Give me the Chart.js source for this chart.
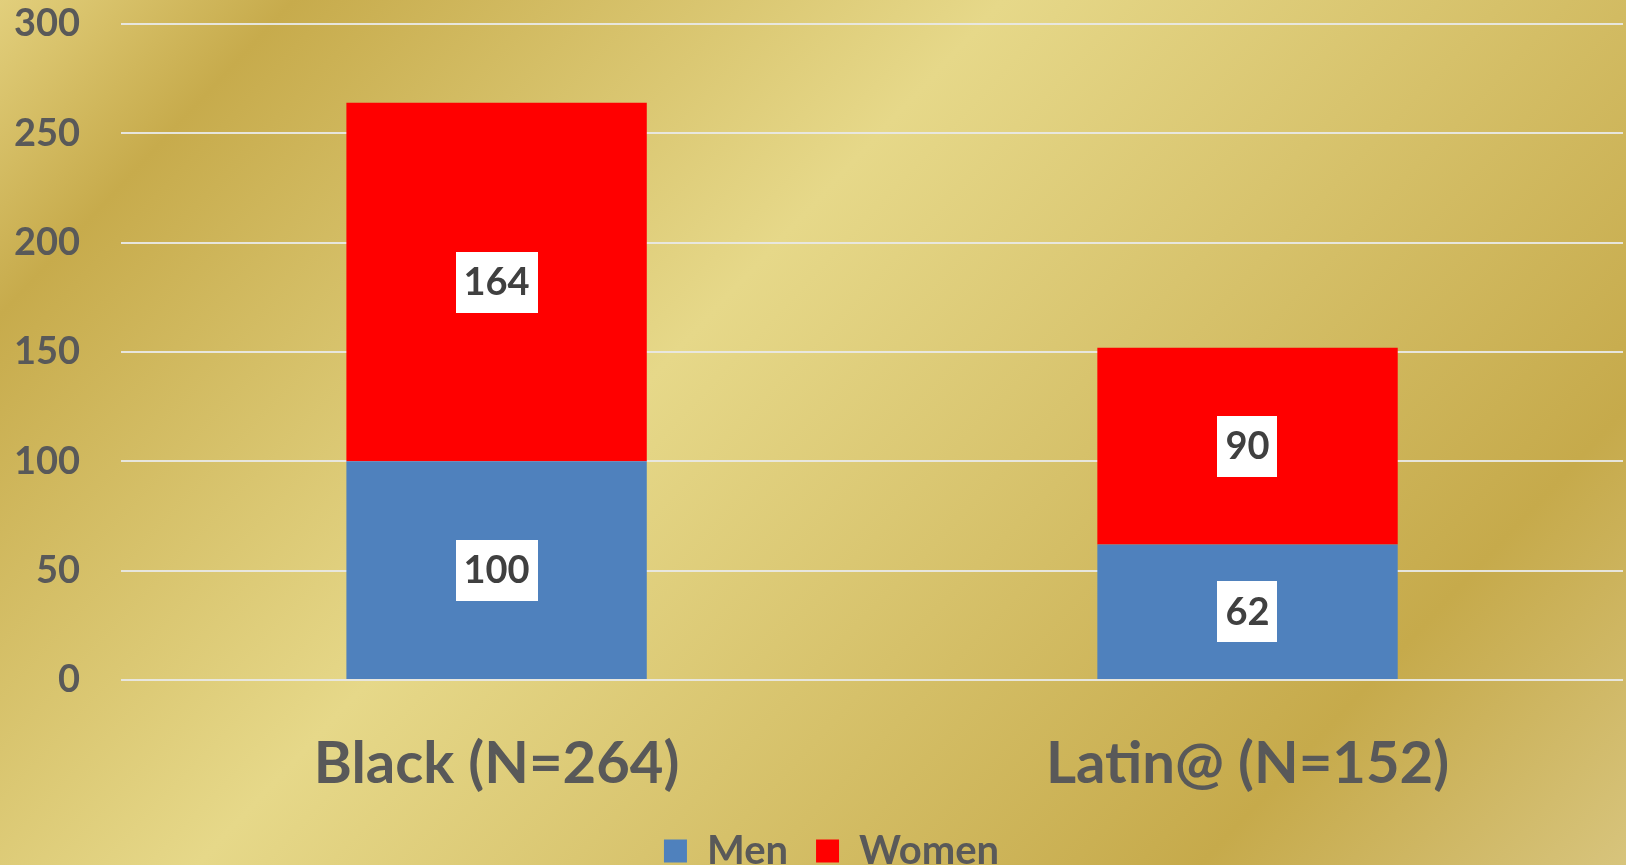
<!DOCTYPE html>
<html>
<head>
<meta charset="utf-8">
<script src="https://cdn.jsdelivr.net/npm/chart.js@4"></script>
<style>
    html, body { margin:0; padding:0; overflow:hidden; width:1626px; height:865px; }
    .wrap {
        position:relative; width:1626px; height:881px;
        background: linear-gradient(133deg, #e2cf7c 0%, #c7ab4c 12%, #e6d889 41%, #c6aa4b 82%, #d8c57e 100%);
    }
</style>
</head>
<body>
<div class="wrap"><canvas id="chart"></canvas></div>
<script>
// ── Data ─────────────────────────────────────────────
const categories = ['Black (N=264)', 'Latin@ (N=152)'];
const menValues   = [100, 62];
const womenValues = [164, 90];
const seriesNames = ['Men', 'Women'];
const Y_MIN = 0, Y_MAX = 300, Y_STEP = 50;

const TEXT = '#595959';

// white boxes with the segment value in the middle of each bar piece
const valueBoxes = {
    id: 'valueBoxes',
    afterDatasetsDraw(chart) {
        const ctx = chart.ctx;
        ctx.save();
        ctx.font = 'bold 38px Lato';
        ctx.textAlign = 'center';
        ctx.textBaseline = 'middle';
        chart.data.datasets.forEach((ds, di) => {
            chart.getDatasetMeta(di).data.forEach((bar, i) => {
                const txt = String(ds.data[i]);
                const cy = (bar.y + bar.base) / 2;
                const w = ctx.measureText(txt).width + 16;
                const h = 61;
                ctx.fillStyle = '#ffffff';
                ctx.fillRect(Math.round(bar.x - w / 2), Math.round(cy - h / 2), Math.round(w), h);
                ctx.fillStyle = '#404040';
                ctx.fillText(txt, bar.x, cy + 1);
            });
        });
        ctx.restore();
    }
};

// legend sits a little right of centre in the original
const legendNudge = {
    id: 'legendNudge',
    afterLayout(chart) {
        if (!chart.legend) return;
        chart.legend.left += 13;
        chart.legend.right += 13;
    }
};

new Chart(document.getElementById('chart'), {
    type: 'bar',
    data: {
        labels: categories,
        datasets: [
            { label: seriesNames[0], data: menValues,   backgroundColor: '#4f81bd' },
            { label: seriesNames[1], data: womenValues, backgroundColor: '#ff0000' }
        ]
    },
    options: {
        responsive: true,
        maintainAspectRatio: false,
        animation: false,
        layout: { padding: { left: 14, right: 3, top: 24, bottom: 0 } },
        datasets: { bar: { categoryPercentage: 1, barPercentage: 0.4 } },
        plugins: {
            legend: {
                position: 'bottom',
                labels: {
                    color: TEXT,
                    font: { family: 'Lato', weight: 'bold', size: 40 },
                    boxWidth: 23, boxHeight: 23, padding: 28
                }
            },
            tooltip: { enabled: false }
        },
        scales: {
            x: {
                stacked: true,
                grid: { display: true, drawOnChartArea: false, drawTicks: true, tickLength: 55, tickColor: 'rgba(0,0,0,0)' },
                border: { display: false },
                ticks: { color: TEXT, font: { family: 'Lato', weight: 'bold', size: 58, lineHeight: 1.0 }, padding: 0 },
                afterFit: scale => { scale.height += 10; }
            },
            y: {
                stacked: true,
                min: Y_MIN, max: Y_MAX,
                grid: { color: 'rgba(232,232,228,0.95)', lineWidth: 2, drawTicks: true, tickLength: 41, tickColor: 'rgba(0,0,0,0)' },
                border: { display: false },
                ticks: { stepSize: Y_STEP, color: TEXT, font: { family: 'Lato', weight: 'bold', size: 38 }, padding: 0 }
            }
        }
    },
    plugins: [valueBoxes, legendNudge]
});
</script>
</body>
</html>
